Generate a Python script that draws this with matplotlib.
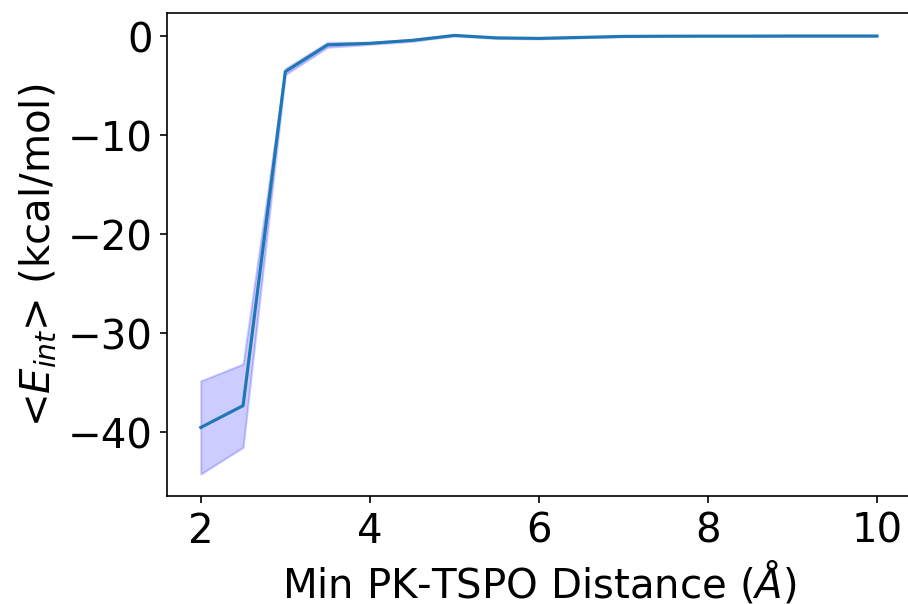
import numpy as np
import matplotlib.pyplot as plt

# minimum PK-TSPO distance bins (Angstrom)
distance = [2.0, 2.5, 3.0, 3.5, 4.0, 4.5, 5.0, 5.5, 6.0, 6.5, 7.0,
            7.5, 8.0, 8.5, 9.0, 9.5, 10.0]
# mean interaction energy per bin (kcal/mol)
e_mean = [-39.5, -37.3, -3.6, -0.9, -0.75, -0.45, 0.05, -0.2, -0.25, -0.15, -0.05,
          -0.03, -0.02, -0.02, -0.01, -0.01, -0.01]
# standard deviation per bin
e_std = [4.7, 4.2, 0.3, 0.25, 0.1, 0.1, 0.05, 0.05, 0.05, 0.03, 0.03,
         0.02, 0.02, 0.02, 0.02, 0.02, 0.02]

distance = np.array(distance)
e_mean = np.array(e_mean)
e_std = np.array(e_std)

plt.rcParams['font.size'] = 19.3

fig, ax = plt.subplots(figsize=(6.06, 4.033), dpi=150)
fig.subplots_adjust(left=0.1837, right=1.002, top=0.977, bottom=0.1785)

ax.plot(distance, e_mean, color='tab:blue', linewidth=1.5)
ax.fill_between(distance, e_mean - e_std, e_mean + e_std, color='blue', alpha=0.2)

ax.set_xlabel(r'Min PK-TSPO Distance ($\AA$)')
ax.set_ylabel(r'<$E_{int}$> (kcal/mol)')
ax.set_xticks([2, 4, 6, 8, 10])
ax.set_yticks([0, -10, -20, -30, -40])

fig.savefig('out.png')
